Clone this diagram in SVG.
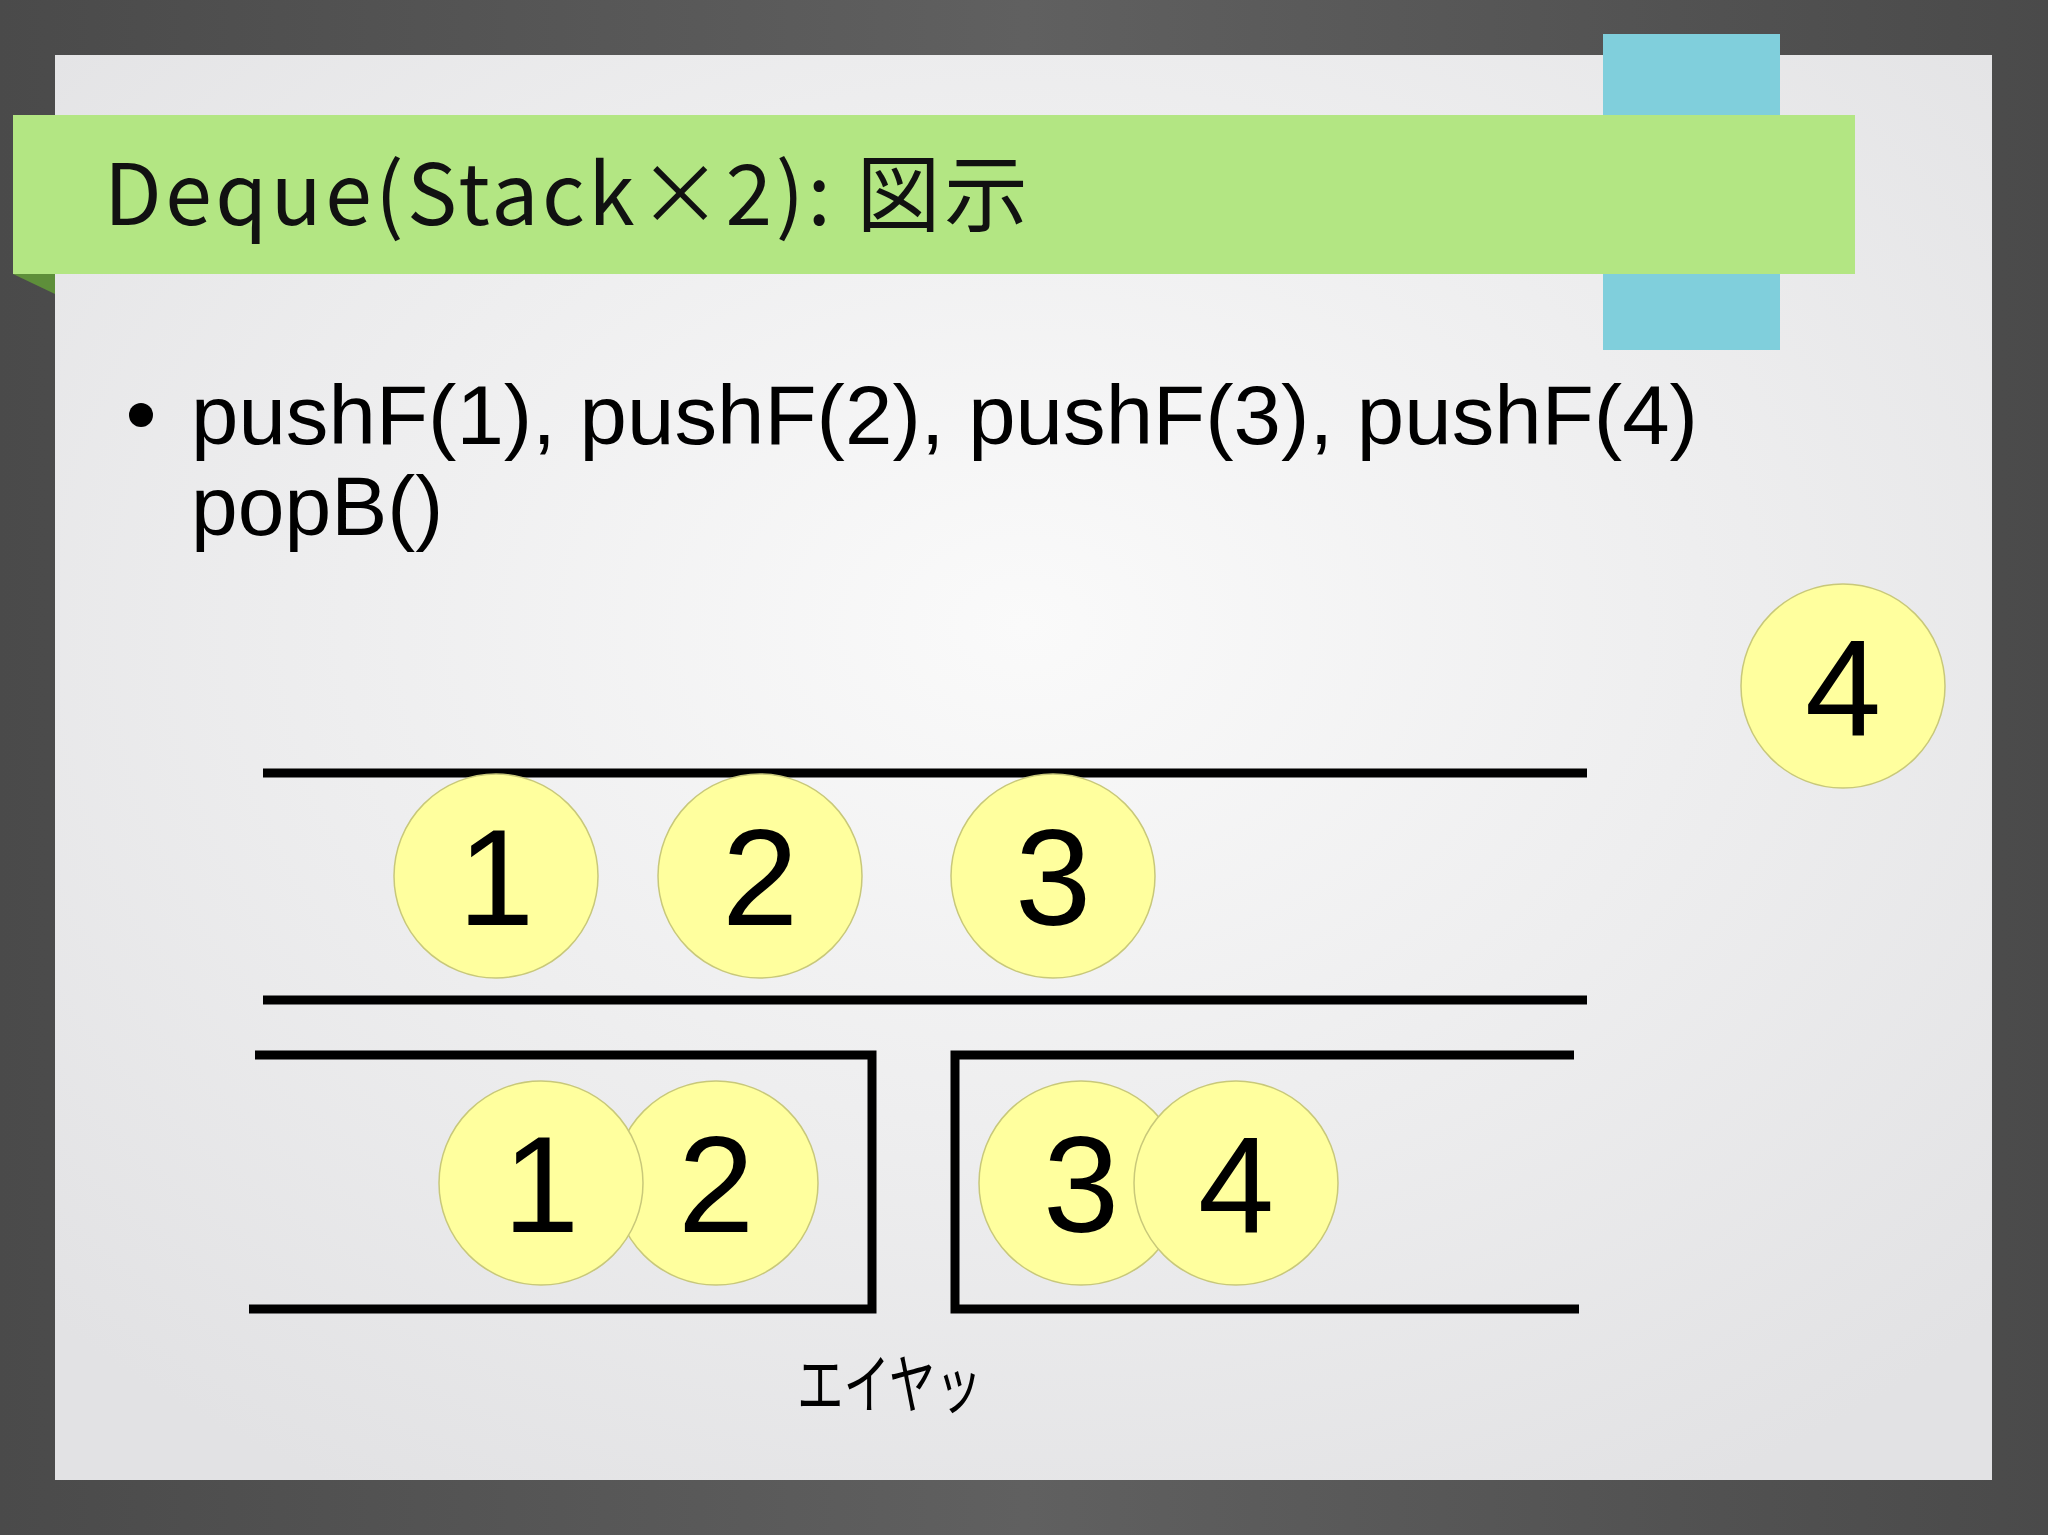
<svg xmlns="http://www.w3.org/2000/svg" width="2048" height="1535" viewBox="0 0 2048 1535">
<defs>
<radialGradient id="bg" cx="0.5" cy="0.4" r="0.7"><stop offset="0" stop-color="#fafafa"/><stop offset="1" stop-color="#e2e2e4"/></radialGradient>
<linearGradient id="fr" x1="0" y1="0" x2="1" y2="0"><stop offset="0" stop-color="#4a4a4a"/><stop offset="0.5" stop-color="#606060"/><stop offset="1" stop-color="#4a4a4a"/></linearGradient>
</defs>
<style>
.c{fill:#ffff9e;stroke:#c8c87a;stroke-width:1.5}
.n{font-family:"Liberation Sans",sans-serif;font-size:137px;text-anchor:middle;fill:#000}
.l{stroke:#000;stroke-width:9;fill:none}
</style>
<rect width="2048" height="1535" fill="url(#fr)"/>
<rect x="55" y="55" width="1937" height="1425" fill="url(#bg)"/>
<rect x="1603" y="34" width="177" height="316" fill="#80cfdc"/>
<polygon points="13,274 55,274 55,294" fill="#5e8f3a"/>
<rect x="13" y="115" width="1842" height="159" fill="#b3e683"/>
<text x="104" y="225" font-family="'Noto Sans CJK JP',sans-serif" font-size="84" fill="#111" textLength="924" lengthAdjust="spacing">Deque(Stack×2): 図示</text>
<circle cx="141" cy="415" r="12" fill="#000"/>
<text x="191" y="444" font-family="'Liberation Sans',sans-serif" font-size="84" fill="#000" textLength="1507" lengthAdjust="spacingAndGlyphs">pushF(1),  pushF(2), pushF(3), pushF(4)</text>
<text x="191" y="535" font-family="'Liberation Sans',sans-serif" font-size="84" fill="#000">popB()</text>
<g id="connectors">
<line class="l" x1="263" y1="773" x2="1587" y2="773"/>
<line class="l" x1="263" y1="1000" x2="1587" y2="1000"/>
<polyline class="l" points="255,1055 872,1055 872,1309 249,1309"/>
<polyline class="l" points="1574,1055 955,1055 955,1309 1579,1309"/>
</g>
<g id="n1"><circle class="c" cx="496" cy="876" r="102"/><text class="n" x="496" y="925">1</text></g>
<g id="n2"><circle class="c" cx="760" cy="876" r="102"/><text class="n" x="760" y="925">2</text></g>
<g id="n3"><circle class="c" cx="1053" cy="876" r="102"/><text class="n" x="1053" y="925">3</text></g>
<g id="n4"><circle class="c" cx="1843" cy="686" r="102"/><text class="n" x="1843" y="735">4</text></g>
<g id="b2"><circle class="c" cx="716" cy="1183" r="102"/><text class="n" x="716" y="1232">2</text></g>
<g id="b1"><circle class="c" cx="541" cy="1183" r="102"/><text class="n" x="541" y="1232">1</text></g>
<g id="b3"><circle class="c" cx="1081" cy="1183" r="102"/><text class="n" x="1081" y="1232">3</text></g>
<g id="b4"><circle class="c" cx="1236" cy="1183" r="102"/><text class="n" x="1236" y="1232">4</text></g>
<text x="797" y="1408" font-family="'Noto Sans CJK JP',sans-serif" font-size="65" fill="#000" textLength="185" lengthAdjust="spacingAndGlyphs">エイヤッ</text>
</svg>
